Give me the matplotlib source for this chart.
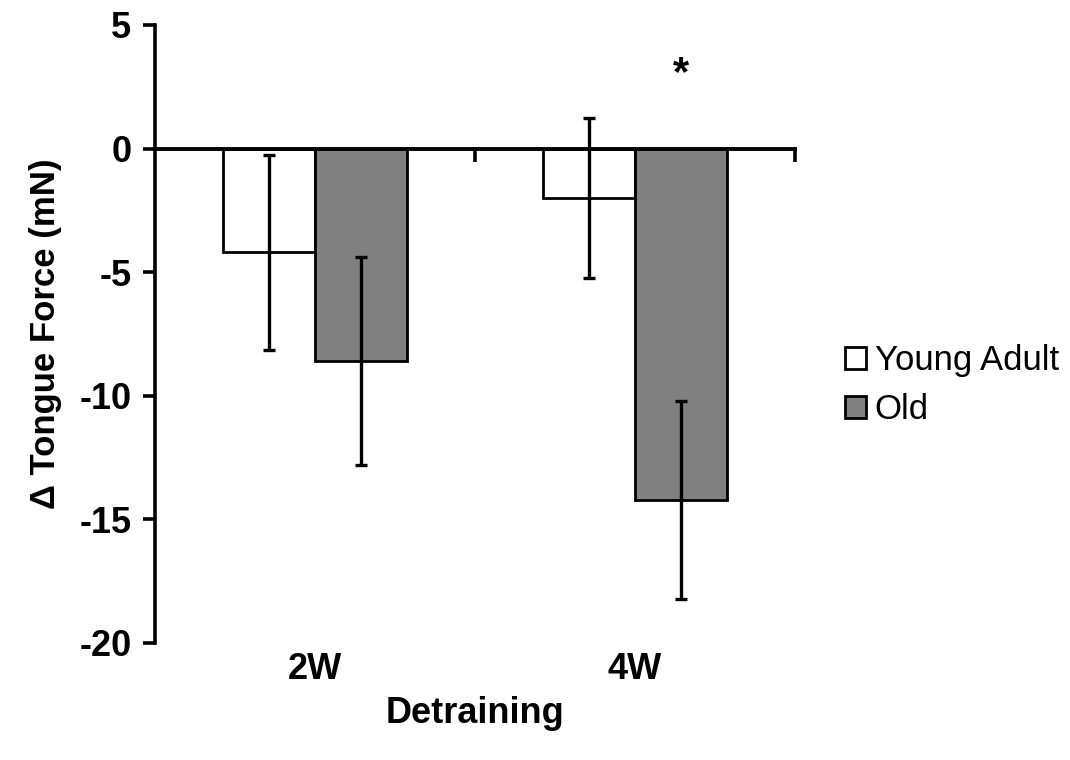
#!/usr/bin/env python3
"""Change in tongue force after detraining, young adult vs old."""

import matplotlib
matplotlib.use('Agg')
import matplotlib.pyplot as plt
import numpy as np

categories = ['2W', '4W']
series = ['Young Adult', 'Old']
young_mean = [-4.2, -2.0]
young_err = [3.95, 3.25]
old_mean = [-8.6, -14.2]
old_err = [4.2, 4.0]
yticks = [5, 0, -5, -10, -15, -20]

plt.rcParams['font.family'] = ['Liberation Sans', 'DejaVu Sans']

fig = plt.figure(figsize=(10.7, 7.6), dpi=100)
ax = fig.add_axes([155 / 1070, 1 - 643 / 760, 640 / 1070, (643 - 25) / 760])

x = np.arange(len(categories))
w = 0.2875
err_kw = dict(ecolor='black', elinewidth=2.4, capsize=4.5, capthick=2.4)
ax.bar(x - w / 2, young_mean, w, yerr=young_err, color='white',
       edgecolor='black', linewidth=2.0, error_kw=err_kw, label=series[0])
ax.bar(x + w / 2, old_mean, w, yerr=old_err, color='#808080',
       edgecolor='black', linewidth=2.0, error_kw=err_kw, label=series[1])

ax.text(x[1] + w / 2, 3.0, '*', ha='center', va='center',
        fontsize=30, fontweight='bold')

ax.set_xlim(-0.5, 1.5)
ax.set_ylim(-20, 5)
ax.set_yticks(yticks)
ax.set_yticklabels([str(t) for t in yticks], fontsize=26, fontweight='bold')
ax.tick_params(axis='y', direction='out', length=9, width=2.6, pad=8)

ax.spines['top'].set_visible(False)
ax.spines['right'].set_visible(False)
ax.spines['left'].set_linewidth(2.6)
ax.spines['bottom'].set_position(('data', 0))
ax.spines['bottom'].set_linewidth(2.8)
ax.spines['bottom'].set_zorder(5)
ax.set_xticks([0.5, 1.5])
ax.set_xticklabels(['', ''])
ax.tick_params(axis='x', direction='out', length=9, width=2.6)

for xi, c in zip(x, categories):
    ax.text(xi, -0.015, c, transform=ax.get_xaxis_transform(),
            ha='center', va='top', fontsize=26, fontweight='bold')
ax.text(0.5, -0.085, 'Detraining', transform=ax.transAxes,
        ha='center', va='top', fontsize=26, fontweight='bold')
ax.set_ylabel('\u0394 Tongue Force (mN)', fontsize=25, fontweight='bold',
              labelpad=12)

fig.legend(loc='center left', bbox_to_anchor=(828 / 1070, 1 - 385 / 760),
           frameon=False, fontsize=25, handlelength=0.6, handleheight=0.6,
           handletextpad=0.25, labelspacing=0.45, borderpad=0)

fig.savefig('out.png', dpi=100)
plt.close(fig)
